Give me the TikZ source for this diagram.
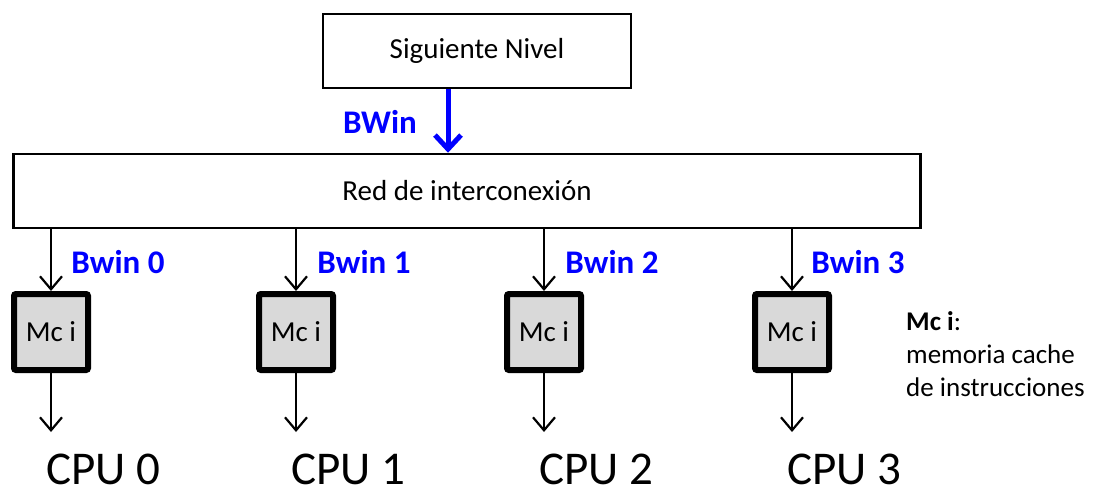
\documentclass[tikz,border=0pt]{standalone}
\usepackage{fontspec}
\setmainfont{Carlito}
\usetikzlibrary{arrows.meta}
\definecolor{bwblue}{RGB}{0,0,255}
\definecolor{mcgray}{RGB}{217,217,217}
\begin{document}
\begin{tikzpicture}[x=1pt,y=-1pt,
  bigbox/.style={draw=black,line width=2.5pt,fill=white,inner sep=0pt},
  mcbox/.style={draw=black,line width=6pt,fill=mcgray,rounded corners=2pt,minimum width=74pt,minimum height=76pt,inner sep=0pt,font=\fontsize{29}{34}\selectfont},
  dnarrow/.style={draw=black,line width=2.2pt,-{Straight Barb[length=13pt,width=22pt,line width=2.2pt]}},
  bwlabel/.style={text=bwblue,font=\bfseries\fontsize{33}{38}\selectfont,inner sep=0pt},
  cpulabel/.style={font=\fontsize{47}{54}\selectfont,inner sep=0pt},
  legend/.style={font=\fontsize{27}{33}\selectfont,align=left,inner sep=0pt,anchor=north west}]
\useasboundingbox (0,0) rectangle (1094,493);
\node[bigbox,minimum width=308pt,minimum height=74pt,font=\fontsize{29}{34}\selectfont] (sn) at (477,51) {Siguiente Nivel};
\node[bigbox,minimum width=907pt,minimum height=74pt,font=\fontsize{29}{34}\selectfont] (red) at (467,191) {Red de interconexión};
\draw[bwblue,line width=5pt,-{Straight Barb[length=14pt,width=26pt,line width=5pt]}] (448,89) -- (red.north -| 448,0);
\node[bwlabel] (bw) at (380,122) {BWin};
\foreach \i/\x/\lx in {0/51/118,1/296/364,2/544/612,3/792/858}{
  \node[mcbox] (mc\i) at (\x,332) {Mc i};
  \node[bwlabel] (bw\i) at (\lx,262) {Bwin \i};
  \draw[dnarrow] (red.south -| mc\i.north) -- (mc\i.north);
  \coordinate (e\i) at (\x,432);
  \draw[dnarrow] (mc\i.south) -- (e\i);
  \node[cpulabel] (cpu\i) at (\x+52,469) {CPU \i};
}
\node[legend] (leg) at (906,311) {\textbf{Mc i}:\\memoria cache\\de instrucciones};
\end{tikzpicture}
\end{document}
